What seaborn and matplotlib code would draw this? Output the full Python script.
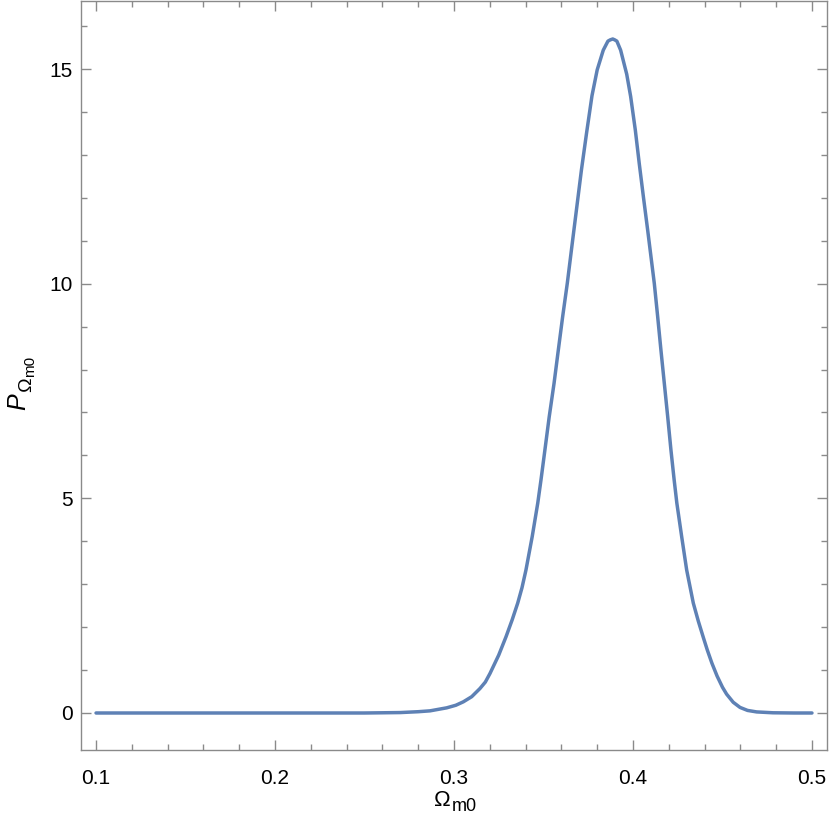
import numpy as np
import pandas as pd
import matplotlib
matplotlib.use("Agg")
import matplotlib.pyplot as plt
import seaborn as sns
from matplotlib.ticker import MultipleLocator

# values
omega_m0 = [0.10, 0.20, 0.25, 0.27, 0.28, 0.2866, 0.2959, 0.3010, 0.3052, 0.3099,
            0.3145, 0.3175, 0.3201, 0.3250, 0.3291, 0.3325, 0.3356, 0.3380, 0.3402,
            0.3437, 0.3468, 0.3486, 0.3508, 0.3532, 0.3559, 0.3583, 0.3607, 0.3633,
            0.3658, 0.3688, 0.3712, 0.3741, 0.3771, 0.3800, 0.3834, 0.3860, 0.3873,
            0.3887, 0.3898, 0.3910, 0.3931, 0.3965, 0.3987, 0.4013, 0.4035, 0.4058,
            0.4082, 0.4119, 0.4138, 0.4156, 0.4175, 0.4194, 0.4212, 0.4230, 0.4245,
            0.4272, 0.4300, 0.4337, 0.4365, 0.4393, 0.4415, 0.4441, 0.4470, 0.4500,
            0.4523, 0.4560, 0.4598, 0.4640, 0.4691, 0.4782, 0.49, 0.50]
prob = [0.0, 0.0, 0.0, 0.01, 0.03, 0.05, 0.12, 0.18, 0.26, 0.38,
        0.57, 0.72, 0.92, 1.35, 1.78, 2.17, 2.56, 2.92, 3.33,
        4.11, 4.89, 5.43, 6.13, 6.90, 7.68, 8.46, 9.23, 10.01,
        10.85, 11.85, 12.65, 13.52, 14.38, 14.98, 15.44, 15.65, 15.68,
        15.70, 15.68, 15.65, 15.44, 14.88, 14.36, 13.58, 12.80, 12.03,
        11.25, 10.01, 9.23, 8.46, 7.68, 6.90, 6.13, 5.43, 4.89,
        4.11, 3.33, 2.56, 2.14, 1.76, 1.47, 1.16, 0.86, 0.60,
        0.44, 0.25, 0.13, 0.06, 0.025, 0.005, 0.0, 0.0]
x_ticks = [0.1, 0.2, 0.3, 0.4, 0.5]
x_tick_labels = ["0.1", "0.2", "0.3", "0.4", "0.5"]
y_ticks = [0, 5, 10, 15]
y_tick_labels = ["0", "5", "10", "15"]

sns.set_theme(style="ticks")
plt.rcParams["font.family"] = ["Liberation Sans", "DejaVu Sans"]
plt.rcParams["text.color"] = "black"

W = H = 830
frame = "#8a8a8a"
fig = plt.figure(figsize=(8.3, 8.3), dpi=100)
ax = fig.add_axes([81 / W, 80 / H, 746 / W, 749 / H])

df = pd.DataFrame({"x": omega_m0, "y": prob})
sns.lineplot(data=df, x="x", y="y", ax=ax, color="#5E81B5", linewidth=2.5)

ax.set_xlim(0.0916, 0.5084)
ax.set_ylim(-0.862, 16.585)
ax.set_xticks(x_ticks)
ax.set_xticklabels(x_tick_labels)
ax.set_yticks(y_ticks)
ax.set_yticklabels(y_tick_labels)
ax.xaxis.set_minor_locator(MultipleLocator(0.02))
ax.yaxis.set_minor_locator(MultipleLocator(1))

for s in ax.spines.values():
    s.set_visible(True)
    s.set_color(frame)
    s.set_linewidth(1.0)

ax.tick_params(which="both", direction="in", top=True, right=True, color=frame,
               width=1.0, labelcolor="black", labelsize=15)
ax.tick_params(which="major", length=7)
ax.tick_params(which="minor", length=4)
ax.tick_params(axis="x", which="major", pad=14)
ax.tick_params(axis="y", which="major", pad=6)
ax.set_xlabel("")
ax.set_ylabel("")
ax.grid(False)

renderer = fig.canvas.get_renderer()

def px(x, y_from_top):
    return x / W, (H - y_from_top) / H

# x label: Omega with subscript m0
t1 = fig.text(*px(434, 806), "\u03A9", fontsize=16, color="black",
              ha="left", va="baseline")
e1 = t1.get_window_extent(renderer)
fig.text(e1.x1 / W + 1 / W, (H - 811) / H, "m0", fontsize=13, color="black",
         ha="left", va="baseline")

# y label: P with subscript Omega_m0 (rotated)
p = fig.text(*px(25, 410), "P", fontsize=18, style="italic", rotation=90,
             color="black", rotation_mode="anchor", ha="left", va="baseline")
ep = p.get_window_extent(renderer)
o = fig.text(31 / W, ep.y1 / H + 1 / H, "\u03A9", fontsize=14, rotation=90,
             color="black", rotation_mode="anchor", ha="left", va="baseline")
eo = o.get_window_extent(renderer)
fig.text(34 / W, eo.y1 / H + 1 / H, "m0", fontsize=11, rotation=90,
         color="black", rotation_mode="anchor", ha="left", va="baseline")

fig.savefig("out.png", dpi=100)
